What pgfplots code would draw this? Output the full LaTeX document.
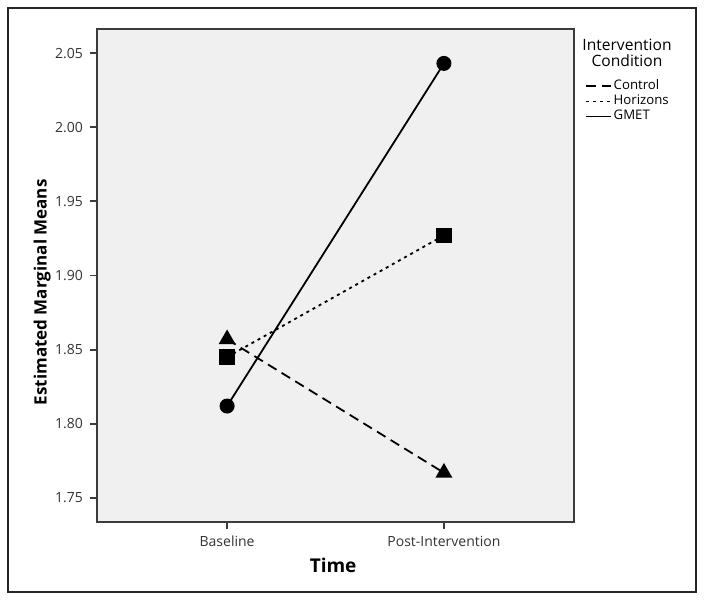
\documentclass[border=0pt]{standalone}
\usepackage{fontspec}
\setmainfont{Open Sans}
\usepackage{pgfplots}
\pgfplotsset{compat=1.18}
\definecolor{panel}{HTML}{F0F0F0}
\definecolor{axisgray}{HTML}{3C3C3C}
\begin{document}
\begin{tikzpicture}
\begin{axis}[
  scale only axis,
  width=238.5pt, height=246.5pt,
  xmin=0.4, xmax=2.6, ymin=1.7338, ymax=2.0662,
  xtick={1,2}, xticklabels={Baseline,Post-Intervention},
  ytick={1.75,1.80,1.85,1.90,1.95,2.00,2.05},
  yticklabel style={/pgf/number format/.cd, fixed, fixed zerofill, precision=2},
  /pgf/number format/assume math mode=true,
  axis background/.style={fill=panel},
  tick pos=left, tick align=outside,
  major tick length=3.5pt,
  axis line style={axisgray, line width=0.9pt},
  tick style={axisgray, line width=0.9pt},
  tick label style={font=\fontsize{7}{8}\selectfont, text=black!80},
  xlabel={Time}, ylabel={Estimated Marginal Means},
  xlabel style={font=\bfseries\fontsize{9.5}{11}\selectfont, at={(axis description cs:0.495,-0.087)}, anchor=center},
  ylabel style={font=\bfseries\fontsize{8.5}{10}\selectfont, at={(axis description cs:-0.115,0.466)}, anchor=center},
  legend style={draw=none, fill=none, at={(axis description cs:1.022,0.902)}, anchor=north west,
    font=\fontsize{6.6}{7.5}\selectfont, row sep=-0.8pt, inner sep=0pt,
    nodes={inner xsep=1pt, inner ysep=1pt}, cells={anchor=west}},
  legend image code/.code={\draw[#1] (0pt,0pt) -- (12.5pt,0pt);},
]
\addplot[black, line width=0.9pt, dash pattern=on 5pt off 3pt, mark=triangle*, mark size=4pt, mark options={solid}]
  coordinates {(1,1.857) (2,1.767)};
\addlegendentry{Control}
\addplot[black, line width=0.9pt, dash pattern=on 1.5pt off 2pt, mark=square*, mark size=3.4pt, mark options={solid}]
  coordinates {(1,1.845) (2,1.927)};
\addlegendentry{Horizons}
\addplot[black, line width=0.9pt, mark=*, mark size=3.3pt]
  coordinates {(1,1.812) (2,2.043)};
\addlegendentry{GMET}
\end{axis}
\node[font=\fontsize{7.8}{8}\selectfont, align=center, anchor=center]
  at (265pt,234.5pt) {Intervention\\Condition};
\draw[line width=0.75pt, black!85] (-44.5pt,-35pt) rectangle (299.5pt,257pt);
\path (-48.5pt,-40pt) rectangle (303.5pt,261pt);
\end{tikzpicture}
\end{document}
